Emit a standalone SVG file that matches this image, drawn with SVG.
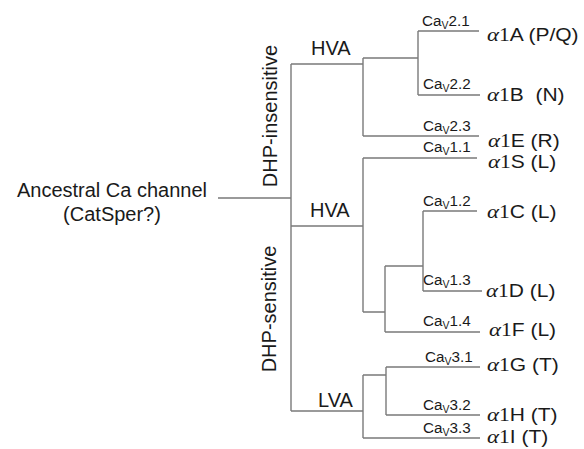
<svg xmlns="http://www.w3.org/2000/svg" width="584" height="449" viewBox="0 0 584 449">
<style>
.ln{stroke:#7a7a7a;stroke-width:1.4;fill:none}
text{fill:#1a1a1a;font-family:"Liberation Sans",Arial,sans-serif}
.big{font-size:20px}
.cav{font-size:14.5px}
.sub{font-size:10px}
.leaf{font-size:17.5px}
.g{font-family:"Liberation Serif","Times New Roman",serif;font-style:italic;font-size:19px}
.n{font-family:"Liberation Serif","Times New Roman",serif;font-size:18px}
</style>
<rect width="584" height="449" fill="#fff"/>
<g id="connectors" class="ln">
<path d="M218 198H291M291 64V411"/>
<path d="M291 64H363M363 58V136M363 58H418M418 31V95M418 31H479M418 95H480M363 136H479"/>
<path d="M291 226H363M363 158V312M363 158H477M363 312H385M385 266V332M385 266H423M423 211V291M423 211H477M423 291H482M385 332H480"/>
<path d="M291 411H363M363 375V438M363 375H386M386 367V415M386 367H480M386 415H480M363 438H480"/>
</g>
<g id="root"><text class="big" x="112" y="197" text-anchor="middle" font-size="20.5">Ancestral Ca channel</text><text class="big" x="112" y="221" text-anchor="middle" font-size="20.5">(CatSper?)</text></g>
<g id="dhp-insensitive"><text class="big" text-anchor="middle" transform="translate(277 116) rotate(-90)">DHP-insensitive</text></g>
<g id="dhp-sensitive"><text class="big" text-anchor="middle" transform="translate(276 309) rotate(-90)">DHP-sensitive</text></g>
<g id="hva1"><text class="big" x="311" y="55">HVA</text></g>
<g id="hva2"><text class="big" x="310" y="217">HVA</text></g>
<g id="lva"><text class="big" x="318" y="407">LVA</text></g>

<g id="a1A"><text class="cav" transform="translate(422 25.5) scale(1.05 1)">Ca<tspan class="sub" dy="3">V</tspan><tspan dy="-3">2.1</tspan></text><text class="leaf" transform="translate(487 41) scale(1.2 1)"><tspan class="g">α</tspan><tspan class="n">1</tspan>A (P/Q)</text></g>
<g id="a1B"><text class="cav" transform="translate(423 89) scale(1.05 1)">Ca<tspan class="sub" dy="3">V</tspan><tspan dy="-3">2.2</tspan></text><text class="leaf" transform="translate(487 101) scale(1.2 1)"><tspan class="g">α</tspan><tspan class="n">1</tspan>B&#160; (N)</text></g>
<g id="a1E"><text class="cav" transform="translate(423 130.5) scale(1.05 1)">Ca<tspan class="sub" dy="3">V</tspan><tspan dy="-3">2.3</tspan></text><text class="leaf" transform="translate(488 147) scale(1.2 1)"><tspan class="g">α</tspan><tspan class="n">1</tspan>E (R)</text></g>
<g id="a1S"><text class="cav" transform="translate(423 152) scale(1.05 1)">Ca<tspan class="sub" dy="3">V</tspan><tspan dy="-3">1.1</tspan></text><text class="leaf" transform="translate(488 168) scale(1.2 1)"><tspan class="g">α</tspan><tspan class="n">1</tspan>S (L)</text></g>
<g id="a1C"><text class="cav" transform="translate(423 205.5) scale(1.05 1)">Ca<tspan class="sub" dy="3">V</tspan><tspan dy="-3">1.2</tspan></text><text class="leaf" transform="translate(487 218) scale(1.2 1)"><tspan class="g">α</tspan><tspan class="n">1</tspan>C (L)</text></g>
<g id="a1D"><text class="cav" transform="translate(423 285) scale(1.05 1)">Ca<tspan class="sub" dy="3">V</tspan><tspan dy="-3">1.3</tspan></text><text class="leaf" transform="translate(486 297) scale(1.2 1)"><tspan class="g">α</tspan><tspan class="n">1</tspan>D (L)</text></g>
<g id="a1F"><text class="cav" transform="translate(423 326) scale(1.05 1)">Ca<tspan class="sub" dy="3">V</tspan><tspan dy="-3">1.4</tspan></text><text class="leaf" transform="translate(489 336) scale(1.2 1)"><tspan class="g">α</tspan><tspan class="n">1</tspan>F (L)</text></g>
<g id="a1G"><text class="cav" transform="translate(425 362) scale(1.05 1)">Ca<tspan class="sub" dy="3">V</tspan><tspan dy="-3">3.1</tspan></text><text class="leaf" transform="translate(487 371) scale(1.2 1)"><tspan class="g">α</tspan><tspan class="n">1</tspan>G (T)</text></g>
<g id="a1H"><text class="cav" transform="translate(423 410) scale(1.05 1)">Ca<tspan class="sub" dy="3">V</tspan><tspan dy="-3">3.2</tspan></text><text class="leaf" transform="translate(487 421) scale(1.2 1)"><tspan class="g">α</tspan><tspan class="n">1</tspan>H (T)</text></g>
<g id="a1I"><text class="cav" transform="translate(423 433) scale(1.05 1)">Ca<tspan class="sub" dy="3">V</tspan><tspan dy="-3">3.3</tspan></text><text class="leaf" transform="translate(487 443) scale(1.2 1)"><tspan class="g">α</tspan><tspan class="n">1</tspan>I (T)</text></g>
</svg>
